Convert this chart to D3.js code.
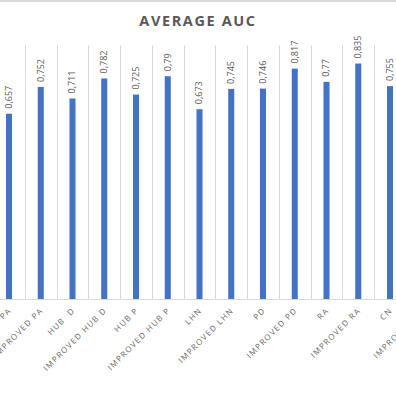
<!DOCTYPE html>
<html>
<head>
<meta charset="utf-8">
<script src="https://cdn.jsdelivr.net/npm/d3@7"></script>
<style>
html,body{margin:0;padding:0;background:#fff;}
svg{display:block;}
</style>
</head>
<body>
<svg id="chart" width="396" height="396"></svg>
<script>
const categories = ["PA","IMPROVED PA","HUB  D","IMPROVED HUB D","HUB P","IMPROVED HUB P","LHN","IMPROVED LHN","PD","IMPROVED PD","RA","IMPROVED RA","CN","IMPROVED CN"];
const values = [0.657,0.752,0.711,0.782,0.725,0.79,0.673,0.745,0.746,0.817,0.77,0.835,0.755,0.8];
const yDomain = [0, 0.9];
const title = "AVERAGE AUC";

const W = 396, H = 396;
const svg = d3.select("#chart");
const textColor = "#595959";
const gridColor = "#d9d9d9";

// top strip
svg.append("rect").attr("x",0).attr("y",0).attr("width",W).attr("height",2).attr("fill","#d9d9d9");

const step = 31.75;
const firstCenter = 9;
const x0 = firstCenter - step/2;
const x = d3.scaleBand().domain(categories)
  .range([x0, x0 + step*categories.length])
  .paddingInner(0.81).paddingOuter(0.405);
const y = d3.scaleLinear().domain(yDomain).range([299, 45.2]);

// vertical gridlines at category boundaries
const g = svg.append("g");
g.selectAll("line.grid").data(categories.slice(0,-1)).join("line")
  .attr("class","grid")
  .attr("x1", d => Math.round(x(d) + x.bandwidth()/2 + x.step()/2) + 0.5)
  .attr("x2", d => Math.round(x(d) + x.bandwidth()/2 + x.step()/2) + 0.5)
  .attr("y1", y(yDomain[1])).attr("y2", y(0))
  .attr("stroke", gridColor).attr("stroke-width",1);

// baseline
g.append("line").attr("x1",0).attr("x2",W).attr("y1",y(0)+0.5).attr("y2",y(0)+0.5)
  .attr("stroke", gridColor).attr("stroke-width",1);

// bars
g.selectAll("rect.bar").data(categories).join("rect")
  .attr("class","bar")
  .attr("x", d => x(d))
  .attr("width", x.bandwidth())
  .attr("y", (d,i) => y(values[i]))
  .attr("height", (d,i) => y(0) - y(values[i]))
  .attr("fill","#4472c4");

// value labels
const fmt = v => String(v).replace(".", ",");
g.selectAll("text.val").data(categories).join("text")
  .attr("class","val")
  .attr("transform", (d,i) => `translate(${x(d)+x.bandwidth()/2+0.5},${y(values[i])-5}) rotate(-90)`)
  .attr("text-anchor","start")
  .attr("dominant-baseline","middle")
  .attr("font-family","'Open Sans', Lato, sans-serif")
  .attr("font-size","9px")
  .attr("fill", textColor)
  .text((d,i) => fmt(values[i]));

// category labels
g.selectAll("text.cat").data(categories).join("text")
  .attr("class","cat")
  .attr("transform", d => `translate(${x(d)+x.bandwidth()/2+3},${y(0)+12}) rotate(-45)`)
  .attr("text-anchor","end")
  .attr("font-family","'Open Sans', Lato, sans-serif")
  .attr("font-size","8px")
  .attr("letter-spacing","1.3px")
  .attr("fill", "#6a6a6a")
  .style("white-space","pre")
  .text(d => d);

// title
svg.append("text")
  .attr("x", 198).attr("y", 26)
  .attr("text-anchor","middle")
  .attr("font-family","'Open Sans', Lato, sans-serif")
  .attr("font-weight","bold")
  .attr("font-size","14.5px")
  .attr("letter-spacing","1.6px")
  .attr("fill", textColor)
  .text(title);
</script>
</body>
</html>
